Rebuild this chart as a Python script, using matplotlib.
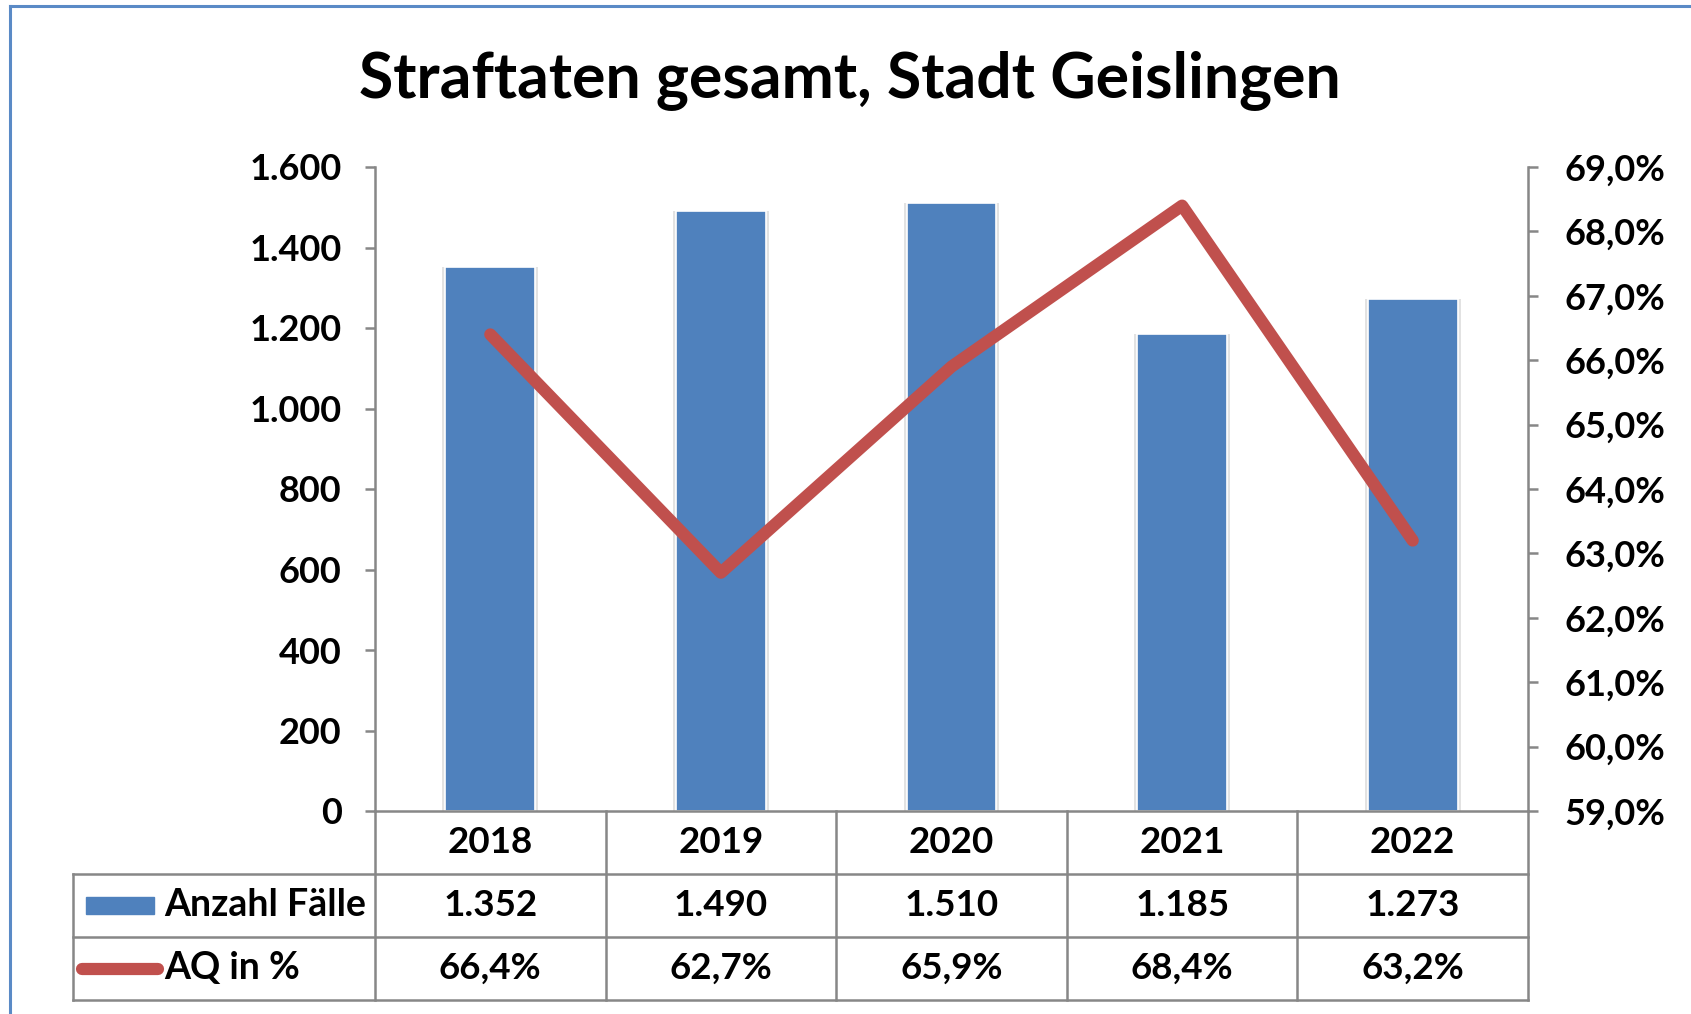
import matplotlib
matplotlib.use("Agg")
import matplotlib.pyplot as plt
import matplotlib.transforms as mtransforms
from matplotlib.lines import Line2D
from matplotlib.patches import Rectangle
from matplotlib.ticker import FuncFormatter, MultipleLocator

# ---- data ----
years = ["2018", "2019", "2020", "2021", "2022"]
faelle = [1352, 1490, 1510, 1185, 1273]
aq = [66.4, 62.7, 65.9, 68.4, 63.2]
title = "Straftaten gesamt, Stadt Geislingen"
series_names = ["Anzahl Fälle", "AQ in %"]

plt.rcParams['font.family'] = ['Lato', 'DejaVu Sans']

BLUE = '#4F81BD'
RED = '#C0504D'
GREY = '#878787'
LW_LINE = 8.8

def fmt_int(v):
    return f"{int(round(v)):,}".replace(",", ".")

def fmt_pct(v, dec=1):
    return f"{v:.{dec}f}".replace(".", ",") + "%"

fig = plt.figure(figsize=(16.91, 10.14), dpi=100)
ax = fig.add_axes([375/1691, 1-811/1014, (1528-375)/1691, (811-167)/1014])
ax2 = ax.twinx()

x = list(range(len(years)))
# shadow / outline
ax.bar(x, faelle, width=0.415, color='#E2E2E2', zorder=1)
ax.bar(x, faelle, width=0.39, color=BLUE, edgecolor='white', linewidth=1.2, zorder=2)
ax.set_xlim(-0.5, len(years) - 0.5)
ax.set_ylim(0, 1600)
ax.yaxis.set_major_locator(MultipleLocator(200))
ax.yaxis.set_major_formatter(FuncFormatter(lambda v, p: fmt_int(v)))
ax.set_xticks([])

ax2.plot(x, aq, color=RED, lw=LW_LINE, solid_capstyle='round', solid_joinstyle='round', zorder=3)
ax2.set_ylim(59, 69)
ax2.yaxis.set_major_locator(MultipleLocator(1))
ax2.yaxis.set_major_formatter(FuncFormatter(lambda v, p: fmt_pct(v)))
ax2.set_xlim(-0.5, len(years) - 0.5)

for a, pad in ((ax, 17), (ax2, 19)):
    a.spines['top'].set_visible(False)
    for s in ('left', 'right', 'bottom'):
        a.spines[s].set_color(GREY)
        a.spines[s].set_linewidth(1.8)
    a.tick_params(axis='y', direction='out', length=7, width=1.8, color=GREY,
                  labelsize=26, pad=pad)
    for lab in a.get_yticklabels():
        lab.set_fontweight('bold')
ax.spines['right'].set_visible(False)
ax2.spines['left'].set_visible(False)
ax2.spines['bottom'].set_visible(False)

# ---- data table ----
trans = mtransforms.blended_transform_factory(ax.transData, ax.transAxes)
r = 63/644
xl = -1.81
lk = dict(color=GREY, lw=1.8, transform=trans, clip_on=False, zorder=5)
for xv in [-0.5 + i for i in range(len(years) + 1)]:
    ax.add_line(Line2D([xv, xv], [0, -3*r], **lk))
ax.add_line(Line2D([xl, xl], [-r, -3*r], **lk))
for k in (1, 2, 3):
    ax.add_line(Line2D([xl, len(years) - 0.5], [-k*r, -k*r], **lk))

tk = dict(transform=trans, ha='center', va='center', fontsize=26.5, fontweight='bold', clip_on=False)
for i in x:
    ax.text(i, -0.5*r, years[i], **tk)
    ax.text(i, -1.5*r, fmt_int(faelle[i]), **tk)
    ax.text(i, -2.5*r, fmt_pct(aq[i]), **tk)

# legend keys
ax.add_patch(Rectangle((-1.753, -1.5*r - 0.0132), 0.295, 0.0264, transform=trans,
                       color=BLUE, clip_on=False))
ax.add_line(Line2D([-1.77, -1.44], [-2.5*r, -2.5*r], color=RED, lw=LW_LINE,
                   solid_capstyle='round', transform=trans, clip_on=False))
ax.text(-1.415, -1.5*r, series_names[0], transform=trans, ha='left', va='center',
        fontsize=27, fontweight='bold', clip_on=False)
ax.text(-1.415, -2.5*r, series_names[1], transform=trans, ha='left', va='center',
        fontsize=27, fontweight='bold', clip_on=False)

# title
fig.text(850/1691, 1-80/1014, title, ha='center', va='center', fontsize=45, fontweight='bold')

# chart border (top and left visible)
fig.add_artist(Line2D([9.5/1691, 9.5/1691], [0, 1-6/1014], color='#5A8AC6', lw=2.2,
                      transform=fig.transFigure))
fig.add_artist(Line2D([9.5/1691, 1], [1-6/1014, 1-6/1014], color='#5A8AC6', lw=2.2,
                      transform=fig.transFigure))

fig.savefig("out.png", dpi=100)
